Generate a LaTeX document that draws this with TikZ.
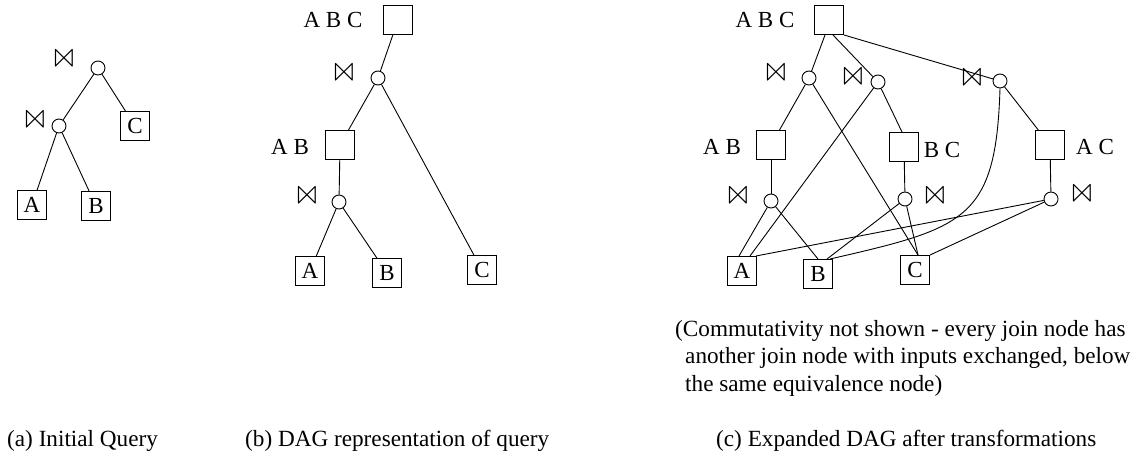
\documentclass[tikz,border=0pt]{standalone}
\usepackage{fontspec}
\usepackage{latexsym}
\usepackage{graphicx}
\setmainfont{Liberation Serif}
\newcommand{\bowsym}{\scalebox{1.45}{$\Join$}}
\tikzset{
  eq/.style={draw, line width=1pt, minimum size=29pt, inner sep=0pt, font=\fontsize{23}{26}\selectfont},
  jn/.style={draw, circle, line width=0.9pt, minimum size=14pt, inner sep=0pt},
  bt/.style={inner sep=0pt, font=\fontsize{20}{24}\selectfont},
  lbl/.style={inner sep=0pt, font=\fontsize{23}{26}\selectfont},
  captxt/.style={inner sep=0pt, anchor=west, font=\fontsize{23.2}{26}\selectfont},
  conn/.style={line width=0.9pt}
}
\begin{document}
\begin{tikzpicture}[x=1pt,y=-1pt]
\useasboundingbox (0,0) rectangle (1135,458);
% ---------- (a)
\node[jn] (aT) at (98,68) {};
\node[bt] (aTb) at (64,62) {\bowsym};
\node[jn] (aM) at (59,126) {};
\node[bt] (aMb) at (35,123) {\bowsym};
\node[eq] (aC) at (135,126) {C};
\node[eq] (aA) at (32,205) {A};
\node[eq] (aB) at (96,206) {B};
\draw[conn] (aT) -- (aC);
\draw[conn] (aT) -- (aM);
\draw[conn] (aM) -- (aA);
\draw[conn] (aM) -- (aB);
% ---------- (b)
\node[eq] (bABC) at (398,20) {};
\node[lbl] (bABCl) at (333,20) {A B C};
\node[jn] (bJ) at (378,78) {};
\node[bt] (bJb) at (344,76) {\bowsym};
\node[eq] (bAB) at (340,145) {};
\node[lbl] (bABl) at (290,147) {A B};
\node[jn] (bJ2) at (339,202) {};
\node[bt] (bJ2b) at (307,199) {\bowsym};
\node[eq] (bA) at (310,271) {A};
\node[eq] (bB) at (387,273) {B};
\node[eq] (bC) at (482,270) {C};
\draw[conn] (bABC) -- (bJ);
\draw[conn] (bJ) -- (bAB);
\draw[conn] (bJ) -- (bC);
\draw[conn] (bAB) -- (bJ2);
\draw[conn] (bJ2) -- (bA);
\draw[conn] (bJ2) -- (bB);
% ---------- (c)
\node[eq] (cABC) at (829,20) {};
\node[lbl] (cABCl) at (765,20) {A B C};
\node[jn] (cJ1) at (809,78) {};
\node[bt] (cJ1b) at (776,76) {\bowsym};
\node[jn] (cJ2) at (878,82) {};
\node[bt] (cJ2b) at (853,80) {\bowsym};
\node[jn] (cJ3) at (1000,81) {};
\node[bt] (cJ3b) at (972,81) {\bowsym};
\node[eq] (cAB) at (771,145) {};
\node[lbl] (cABl) at (722,147) {A B};
\node[eq] (cBC) at (904,147) {};
\node[lbl] (cBCl) at (942,150) {B C};
\node[eq] (cAC) at (1050,145) {};
\node[lbl] (cACl) at (1095,147) {A C};
\node[jn] (cJab) at (771,201) {};
\node[bt] (cJabb) at (738,199) {\bowsym};
\node[jn] (cJbc) at (905,199) {};
\node[bt] (cJbcb) at (935,199) {\bowsym};
\node[jn] (cJac) at (1051,199) {};
\node[bt] (cJacb) at (1082,197) {\bowsym};
\node[eq] (cA) at (742,271) {A};
\node[eq] (cB) at (818,274) {B};
\node[eq] (cC) at (915,270) {C};
\draw[conn] ([xshift=-4pt]cABC.south) -- (cJ1);
\draw[conn] ([xshift=4pt]cABC.south) -- (cJ2);
\draw[conn] (cABC.south east) -- (cJ3);
\draw[conn] (cJ1) -- (cAB);
\draw[conn] (cJ1) -- ([xshift=3pt]cC.north);
\draw[conn] (cJ2) -- ([xshift=8pt]cA.north);
\draw[conn] (cJ2) -- ([xshift=-2pt]cBC.north);
\draw[conn] (cJ3) -- (cAC);
\draw[conn] (cJ3.south) .. controls (996,220) and (965,228) .. ([xshift=-3pt]cB.north east);
\draw[conn] (cAB) -- (cJab);
\draw[conn] (cBC) -- (cJbc);
\draw[conn] (cAC) -- (cJac);
\draw[conn] (cJab) -- ([xshift=-3pt]cA.north);
\draw[conn] (cJab) -- (cB.north);
\draw[conn] (cJbc) -- ([xshift=9pt]cB.north);
\draw[conn] (cJbc) -- ([xshift=3pt]cC.north);
\draw[conn] (cJac) -- ([xshift=-1pt]cA.north east);
\draw[conn] (cJac) -- (cC.north east);
% ---------- texts
\node[captxt] (n1) at (675,331) {(Commutativity not shown - every join node has};
\node[captxt] (n2) at (685,358) {another join node with inputs exchanged, below};
\node[captxt] (n3) at (685,386) {the same equivalence node)};
\node[captxt] (capa) at (7,441) {(a) Initial Query};
\node[captxt] (capb) at (245,441) {(b) DAG representation of query};
\node[captxt] (capc) at (716,441) {(c) Expanded DAG after transformations};
\end{tikzpicture}
\end{document}
